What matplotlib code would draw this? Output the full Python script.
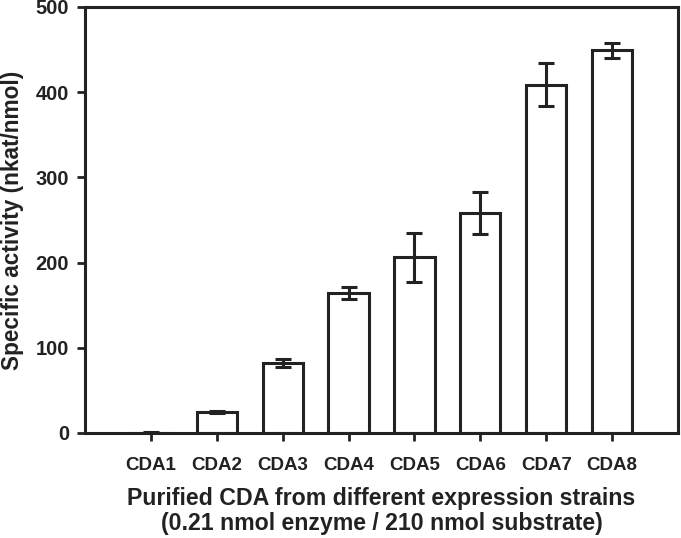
import numpy as np
import matplotlib
matplotlib.use("Agg")
import matplotlib.pyplot as plt

plt.rcParams['font.family'] = ['Liberation Sans', 'DejaVu Sans']
plt.rcParams['font.weight'] = 'bold'

# data
strains = ["CDA1", "CDA2", "CDA3", "CDA4", "CDA5", "CDA6", "CDA7", "CDA8"]
activity = [0.5, 24.5, 82, 164, 206, 258, 409, 449]
err = [0.5, 1.5, 5, 7, 29, 25, 25, 9]

ink = '#222222'

fig = plt.figure(figsize=(6.81, 5.38), dpi=100)
ax = fig.add_axes([85/681, 105/538, 593/681, 426/538])

x = np.arange(1, len(strains) + 1)
ax.bar(x, activity, width=0.61, facecolor='white', edgecolor=ink, linewidth=2.2,
       yerr=err, error_kw=dict(ecolor=ink, elinewidth=2.2, capsize=6, capthick=2.2))

ax.set_xlim(0, 9)
ax.set_ylim(0, 500)
ax.set_xticks(x)
ax.set_xticklabels(strains)
ax.set_yticks([0, 100, 200, 300, 400, 500])
for s in ax.spines.values():
    s.set_linewidth(2.2)
    s.set_color(ink)
ax.tick_params(direction='out', length=5.5, width=2, colors=ink, labelsize=13.5)
ax.tick_params(axis='y', pad=6, labelsize=14.5)
ax.tick_params(axis='x', pad=12)

ax.set_xlabel("Purified CDA from different expression strains\n(0.21 nmol enzyme / 210 nmol substrate)",
              fontsize=16.7, fontweight='bold', color=ink, labelpad=9, linespacing=1.1)
ax.set_ylabel("Specific activity (nkat/nmol)", fontsize=16.3, fontweight='bold', color=ink, labelpad=8)

fig.savefig("out.png", dpi=100)
